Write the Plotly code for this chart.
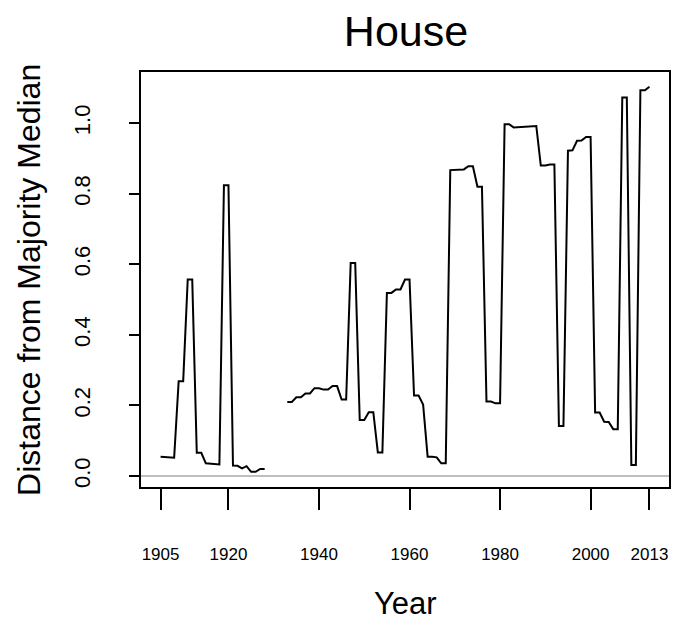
import plotly.graph_objects as go

years = [1905, 1906, 1907, 1908, 1909, 1910, 1911, 1912, 1913, 1914,
         1915, 1916, 1917, 1918, 1919, 1920, 1921, 1922, 1923, 1924,
         1925, 1926, 1927, 1928, 1929, 1930, 1931, 1932, 1933, 1934,
         1935, 1936, 1937, 1938, 1939, 1940, 1941, 1942, 1943, 1944,
         1945, 1946, 1947, 1948, 1949, 1950, 1951, 1952, 1953, 1954,
         1955, 1956, 1957, 1958, 1959, 1960, 1961, 1962, 1963, 1964,
         1965, 1966, 1967, 1968, 1969, 1970, 1971, 1972, 1973, 1974,
         1975, 1976, 1977, 1978, 1979, 1980, 1981, 1982, 1983, 1984,
         1985, 1986, 1987, 1988, 1989, 1990, 1991, 1992, 1993, 1994,
         1995, 1996, 1997, 1998, 1999, 2000, 2001, 2002, 2003, 2004,
         2005, 2006, 2007, 2008, 2009, 2010, 2011, 2012, 2013]

distance = [0.055, 0.054, 0.053, 0.052, 0.269, 0.269, 0.557, 0.557, 0.066, 0.066,
            0.036, 0.035, 0.034, 0.033, 0.824, 0.824, 0.030, 0.029, 0.022, 0.028,
            0.012, 0.012, 0.020, 0.020, None, None, None, None, 0.210, 0.210,
            0.223, 0.223, 0.234, 0.234, 0.249, 0.249, 0.245, 0.245, 0.255, 0.255,
            0.217, 0.217, 0.604, 0.604, 0.159, 0.159, 0.181, 0.181, 0.067, 0.067,
            0.519, 0.519, 0.529, 0.529, 0.557, 0.557, 0.228, 0.228, 0.203, 0.055,
            0.055, 0.053, 0.036, 0.036, 0.867, 0.867, 0.868, 0.869, 0.878, 0.878,
            0.820, 0.820, 0.211, 0.211, 0.206, 0.206, 0.997, 0.997, 0.988, 0.989,
            0.990, 0.991, 0.992, 0.992, 0.880, 0.880, 0.883, 0.883, 0.142, 0.142,
            0.922, 0.923, 0.950, 0.951, 0.961, 0.961, 0.180, 0.180, 0.154, 0.153,
            0.133, 0.133, 1.073, 1.073, 0.031, 0.031, 1.093, 1.093, 1.103]

x_ticks = [1905, 1920, 1940, 1960, 1980, 2000, 2013]
x_tick_labels = ["1905", "1920", "1940", "1960", "1980", "2000", "2013"]
y_ticks = [0.0, 0.2, 0.4, 0.6, 0.8, 1.0]
y_tick_labels = ["0.0", "0.2", "0.4", "0.6", "0.8", "1.0"]

FONT = "Liberation Sans, Arial, Helvetica, sans-serif"

fig = go.Figure()
fig.add_trace(go.Scatter(
    x=years, y=distance, mode="lines",
    line=dict(color="black", width=2),
    connectgaps=False, showlegend=False, hoverinfo="x+y",
))

fig.add_shape(type="line", xref="paper", yref="y", x0=0, x1=1, y0=0, y1=0,
              line=dict(color="#a8a8a8", width=1.5), layer="below")

fig.update_layout(
    width=675, height=623,
    margin=dict(l=141, r=4, t=72, b=136),
    paper_bgcolor="white", plot_bgcolor="white",
    font=dict(family=FONT, color="black"),
    title=dict(text="House", x=406 / 675, xanchor="center",
               y=1 - 31 / 623, yanchor="middle", yref="container",
               font=dict(size=43, family=FONT, color="black")),
    xaxis=dict(
        range=[1900.68, 2017.32], tickmode="array", tickvals=x_ticks,
        ticktext=x_tick_labels, ticks="outside", ticklen=21, tickwidth=1.5,
        tickcolor="black", showline=True, linecolor="black", linewidth=1.5,
        mirror=True, showgrid=False, zeroline=False,
        tickfont=dict(size=17, family=FONT, color="black"),
        ticklabelstandoff=30,
    ),
    yaxis=dict(
        range=[-0.031, 1.145], tickmode="array", tickvals=y_ticks,
        ticktext=y_tick_labels, ticks="outside", ticklen=10, tickwidth=1.5,
        tickcolor="black", showline=True, linecolor="black", linewidth=1.5,
        mirror=True, showgrid=False, zeroline=False, tickangle=-90,
        tickfont=dict(size=22, family=FONT, color="black"),
        ticklabelstandoff=30,
    ),
    annotations=[
        dict(text="Year", xref="paper", yref="paper", x=0.5,
             y=(487 - 603) / 415, xanchor="center", yanchor="middle",
             showarrow=False, font=dict(size=31, family=FONT, color="black")),
        dict(text="Distance from Majority Median", xref="paper", yref="paper",
             x=(28 - 141) / 530, y=0.5, xanchor="center", yanchor="middle",
             textangle=-90, showarrow=False,
             font=dict(size=32, family=FONT, color="black")),
    ],
)

fig.write_html("out.html")
